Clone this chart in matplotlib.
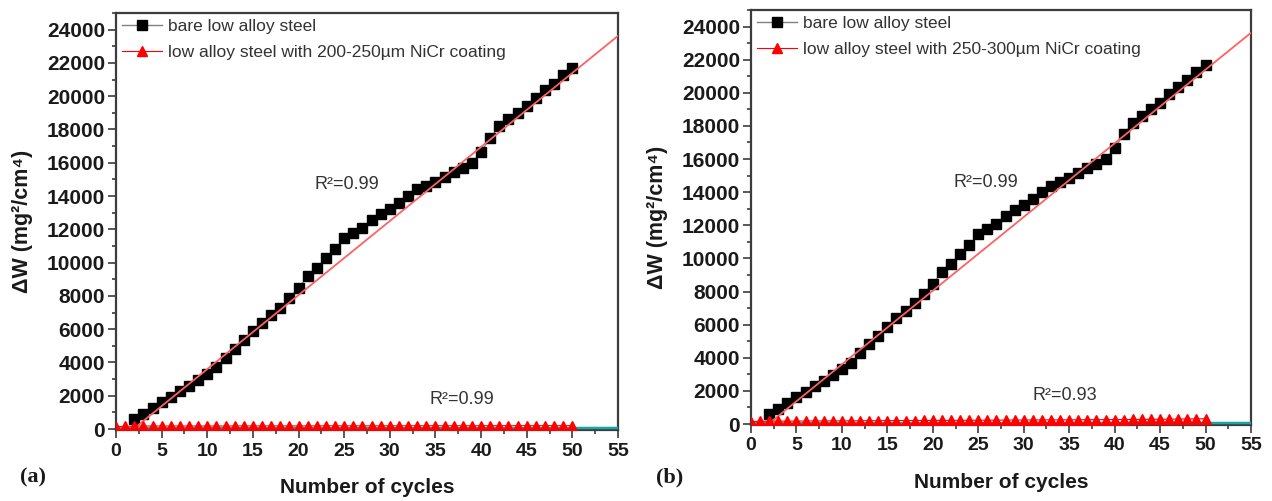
import numpy as np
import matplotlib
matplotlib.use("Agg")
import matplotlib.pyplot as plt
from matplotlib.lines import Line2D
from matplotlib.ticker import MultipleLocator

plt.rcParams['font.family'] = ['Liberation Sans', 'DejaVu Sans']

# ---------------- data ----------------
cycles_bare = list(range(2, 51))
bare_steel = [600, 900, 1250, 1640, 1950, 2270, 2610, 2950, 3310, 3710,
              4260, 4820, 5320, 5860, 6380, 6830, 7290, 7870, 8480, 9180,
              9680, 10250, 10800, 11450, 11800, 12100, 12550, 12900, 13250, 13600,
              14000, 14400, 14600, 14850, 15150, 15450, 15700, 16000, 16650, 17500,
              18200, 18600, 19000, 19400, 19900, 20350, 20750, 21250, 21700]

cycles_coat = list(range(0, 51))
coating_a = [150, 160, 170, 180, 180, 180, 180, 180, 180, 180,
             180, 180, 180, 180, 185, 185, 185, 185, 185, 185,
             185, 185, 190, 190, 190, 190, 190, 190, 190, 190,
             190, 190, 195, 195, 195, 195, 195, 195, 195, 195,
             195, 200, 200, 200, 200, 200, 200, 200, 200, 200, 200]
coating_b = [150, 160, 170, 175, 175, 180, 180, 185, 185, 190,
             190, 195, 195, 200, 200, 205, 205, 210, 210, 215,
             215, 220, 220, 225, 225, 230, 230, 235, 235, 240,
             240, 245, 245, 250, 250, 255, 255, 260, 265, 265,
             270, 270, 275, 280, 285, 290, 295, 300, 305, 310, 315]

# linear fits: (slope, intercept)
fit_bare = (445.0, -850.0)
fit_coat_a = (0.4, 40.0)
fit_coat_b = (0.4, 40.0)

r2_labels_a = ["R\u00b2=0.99", "R\u00b2=0.99"]
r2_labels_b = ["R\u00b2=0.99", "R\u00b2=0.93"]
legend_a = ["bare low alloy steel", "low alloy steel with 200-250\u00b5m NiCr coating"]
legend_b = ["bare low alloy steel", "low alloy steel with 250-300\u00b5m NiCr coating"]
x_ticks = list(range(0, 56, 5))
y_ticks = list(range(0, 24001, 2000))

SPINE = '#3c3c3c'
TXT = '#333333'

fig = plt.figure(figsize=(12.72, 5.01), dpi=100)
ax_a = fig.add_axes([116/1272, (501-430)/501, (618-116)/1272, (430-13)/501])
ax_b = fig.add_axes([751/1272, (501-425)/501, (1251-751)/1272, (425-10)/501])


def draw(ax, coat, fit_coat, legend_labels, r2_labels, r2_pos):
    xf = np.array([0, 55])
    ax.plot(cycles_bare, bare_steel, color='#808080', lw=0.8,
            marker='s', ms=6.6, mfc='black', mec='black', zorder=3)
    ax.plot(xf, fit_bare[0]*xf + fit_bare[1], color='#ff6060', lw=1.3, zorder=4)
    ax.plot(cycles_coat, coat, color='red', lw=0.8,
            marker='^', ms=6.5, mfc='red', mec='red', zorder=5)
    ax.plot(xf, fit_coat[0]*xf + fit_coat[1], color='#1aa6a6', lw=1.8, zorder=4)

    ax.set_xlim(0, 55)
    ax.set_ylim(-60, 25000)
    ax.set_xticks(x_ticks)
    ax.set_yticks(y_ticks)
    ax.xaxis.set_minor_locator(MultipleLocator(2.5))
    ax.yaxis.set_minor_locator(MultipleLocator(1000))
    ax.tick_params(which='both', direction='out', color=SPINE, width=1.2,
                   top=False, right=False)
    ax.tick_params(which='major', length=6)
    ax.tick_params(which='minor', length=3)
    ax.tick_params(axis='x', labelsize=14, pad=3)
    ax.tick_params(axis='y', labelsize=15, pad=2)
    for lab in ax.get_xticklabels() + ax.get_yticklabels():
        lab.set_fontweight('bold')
        lab.set_color('#1a1a1a')
    for s in ax.spines.values():
        s.set_color(SPINE)
        s.set_linewidth(1.6)

    ax.set_xlabel('Number of cycles', fontsize=15, fontweight='bold', color='#1a1a1a')
    ax.xaxis.set_label_coords(0.5, -0.115)
    ax.set_ylabel('\u0394W (mg\u00b2/cm\u2074)', fontsize=15.5, fontweight='bold', color='#1a1a1a')
    ax.yaxis.set_label_coords(-0.165, 0.5)

    handles = [Line2D([], [], color='#808080', lw=1.0, marker='s', ms=6.6,
                      mfc='black', mec='black'),
               Line2D([], [], color='red', lw=0.8, marker='^', ms=6.5,
                      mfc='red', mec='red')]
    leg = ax.legend(handles, legend_labels, loc='upper left', frameon=False,
                    bbox_to_anchor=(0.012, 0.985), borderaxespad=0, borderpad=0,
                    handlelength=2.3, handletextpad=0.35, labelspacing=0.62,
                    fontsize=12.5)
    for t in leg.get_texts():
        t.set_color(TXT)

    for lab, (px, py) in zip(r2_labels, r2_pos):
        ax.text(px, py, lab, fontsize=13, color=TXT, ha='center', va='center')


draw(ax_a, coating_a, fit_coat_a, legend_a, r2_labels_a, [(25.3, 14700), (37.9, 1800)])
draw(ax_b, coating_b, fit_coat_b, legend_b, r2_labels_b, [(25.8, 14600), (34.5, 1700)])

fig.text(33/1272, 1-477/501, '(a)', fontsize=16, fontweight='bold',
         family=['Liberation Serif', 'DejaVu Serif'], ha='center', va='center', color='#1a1a1a')
fig.text(670/1272, 1-477/501, '(b)', fontsize=16, fontweight='bold',
         family=['Liberation Serif', 'DejaVu Serif'], ha='center', va='center', color='#1a1a1a')

fig.savefig('out.png', dpi=100)
